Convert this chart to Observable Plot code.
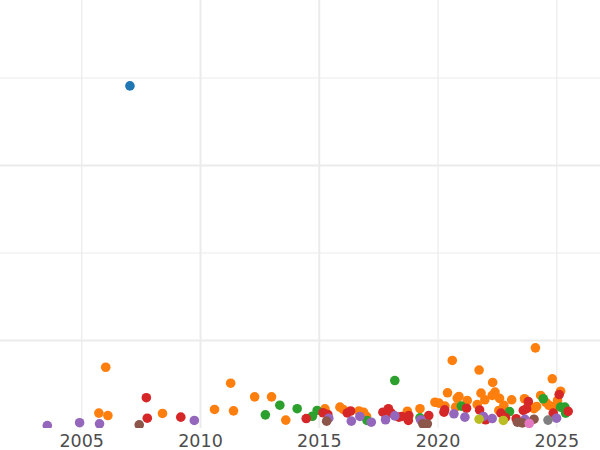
<!DOCTYPE html>
<html><head><meta charset="utf-8">
<script src="https://cdn.jsdelivr.net/npm/d3@7"></script>
<script src="https://cdn.jsdelivr.net/npm/@observablehq/plot@0.6"></script>
<style>html,body{margin:0;padding:0;background:#fff}</style>
</head><body><div id="chart"></div>
<script>
// Series (drawn in this order; later ones on top)
const seriesNames = ["S1","S2","S3","S4","S5","S6","S7","S8","S9"];
const seriesColors = ["#1f77b4","#ff7f0e","#2ca02c","#d62728","#9467bd","#8c564b","#e377c2","#7f7f7f","#bcbd22"];

// [year, value] per series
const s1 = [[2007.03,245.5]];
const s2 = [[2006.01,84.7],[2005.72,58.5],[2006.10,57.1],[2008.40,58.3],[2010.59,60.6],[2011.27,75.6],[2011.39,59.8],[2012.28,67.8],[2012.99,67.8],[2013.59,54.5],[2015.24,60.9],[2015.87,61.9],[2016.01,60.6],[2016.67,59.7],[2016.87,58.9],[2016.99,56.6],[2018.71,59.6],[2019.24,61.0],[2019.87,64.7],[2020.04,64.2],[2020.29,62.5],[2020.40,70.1],[2020.60,88.6],[2020.81,67.0],[2020.88,68.0],[2020.74,61.9],[2021.23,65.7],[2021.73,83.1],[2021.81,69.9],[2021.65,63.4],[2021.97,66.1],[2022.30,76.0],[2022.40,70.5],[2022.59,66.9],[2022.28,68.6],[2022.77,62.9],[2023.10,66.1],[2022.56,60.0],[2023.64,66.7],[2024.04,61.0],[2024.10,95.8],[2024.32,68.6],[2024.67,62.9],[2024.81,78.1],[2025.16,71.0],[2024.88,62.3],[2024.15,62.3],[2024.54,64.6],[2025.03,65.7],[2023.81,63.4]];
const s3 = [[2012.73,57.5],[2013.34,63.0],[2014.07,61.0],[2014.71,56.7],[2014.91,60.0],[2017.01,54.3],[2018.18,77.1],[2019.24,55.8],[2020.98,62.5],[2023.01,59.4],[2024.43,66.7],[2025.16,61.9],[2025.34,61.9],[2025.37,58.5]];
const s4 = [[2007.72,67.3],[2007.76,55.6],[2009.17,56.2],[2014.45,55.4],[2015.16,58.7],[2015.36,57.7],[2016.18,58.6],[2016.32,59.7],[2017.68,59.0],[2017.91,61.0],[2018.03,58.5],[2018.35,56.2],[2018.47,56.6],[2018.77,57.1],[2018.75,54.3],[2019.61,57.1],[2020.28,60.4],[2020.25,59.0],[2021.20,61.3],[2021.75,60.3],[2022.00,54.7],[2022.65,58.5],[2022.84,56.0],[2023.29,55.3],[2023.59,60.0],[2023.73,61.0],[2023.80,65.1],[2025.10,69.1],[2024.85,58.5],[2025.48,59.5]];
const s5 = [[2003.55,51.4],[2004.91,53.0],[2005.75,52.4],[2009.74,54.3],[2015.40,55.6],[2016.35,53.9],[2016.71,56.6],[2017.19,53.3],[2017.79,54.7],[2018.18,56.9],[2019.27,54.7],[2020.67,58.1],[2021.13,56.2],[2021.91,56.6],[2022.28,55.4],[2023.66,54.9],[2024.99,55.6]];
const s6 = [[2007.42,51.8],[2015.31,53.9],[2019.36,52.4],[2019.55,52.4],[2023.34,53.3],[2023.55,52.9],[2024.04,55.0]];
const s7 = [[2023.84,52.6]];
const s8 = [[2024.63,54.5]];
const s9 = [[2021.73,55.0],[2022.75,54.3]];
const seriesData = [s1,s2,s3,s4,s5,s6,s7,s8,s9];

const xTicks = [2005, 2010, 2015, 2020, 2025];
const xGridThick = [2010, 2015];
const xGridThin = [2005, 2020, 2025];
const yGridMajor = [100, 200];
const yGridMinor = [150, 250];

const points = seriesData.flatMap((arr, i) => arr.map(([year, value]) => ({series: seriesNames[i], year, value})));

const chart = Plot.plot({
  width: 600, height: 450,
  marginTop: 0, marginRight: 0, marginBottom: 22, marginLeft: 0,
  style: {fontFamily: "DejaVu Sans", fontSize: "17.5px", color: "#4d4d4d", background: "#fff"},
  x: {domain: [2001.58, 2026.84], ticks: xTicks, tickFormat: d => String(d), tickSize: 0, tickPadding: 6.5, label: null},
  y: {domain: [49.7, 294.3], axis: null},
  color: {domain: seriesNames, range: seriesColors},
  marks: [
    Plot.ruleY(yGridMinor, {stroke: "#ebebeb", strokeWidth: 1.2}),
    Plot.ruleY(yGridMajor, {stroke: "#ebebeb", strokeWidth: 2}),
    Plot.ruleX(xGridThin, {stroke: "#ebebeb", strokeWidth: 1.2}),
    Plot.ruleX(xGridThick, {stroke: "#ebebeb", strokeWidth: 2}),
    Plot.dot(points, {x: "year", y: "value", fill: "series", r: 4.8, clip: true})
  ]
});
document.getElementById("chart").appendChild(chart);
</script>
</body></html>
